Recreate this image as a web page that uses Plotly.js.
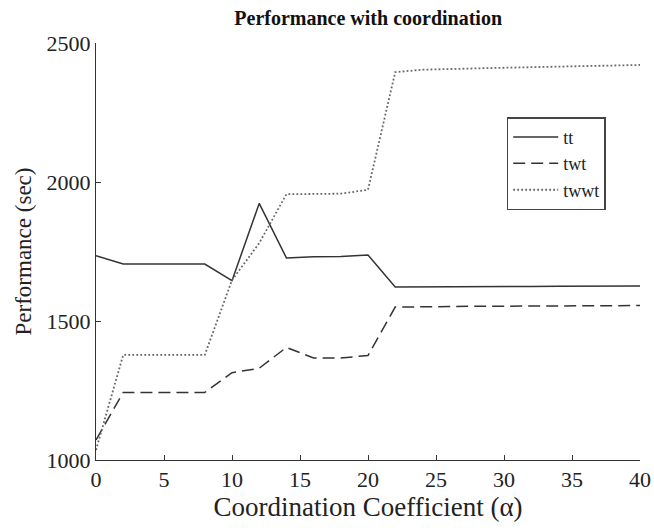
<!DOCTYPE html>
<html>
<head>
<meta charset="utf-8">
<script src="https://cdn.plot.ly/plotly-3.0.1.min.js"></script>
<style>html,body{margin:0;padding:0;background:#fff;}#chart{width:654px;height:528px;}</style>
</head>
<body>
<div id="chart"></div>
<script>
const alpha = [0, 2, 4, 6, 8, 10, 12, 14, 16, 18, 20, 22, 24, 26, 28, 30, 32, 34, 36, 38, 40];
const tt   = [1735, 1705, 1705, 1705, 1705, 1645, 1923, 1727, 1731, 1732, 1737, 1622, 1622, 1623, 1623, 1624, 1624, 1625, 1625, 1626, 1626];
const twt  = [1072, 1243, 1243, 1243, 1243, 1314, 1330, 1405, 1367, 1367, 1376, 1550, 1552, 1552, 1553, 1553, 1554, 1554, 1555, 1555, 1556];
const twwt = [1036, 1378, 1378, 1378, 1378, 1647, 1780, 1956, 1956, 1958, 1972, 2395, 2404, 2407, 2409, 2411, 2413, 2415, 2417, 2419, 2421];
const seriesNames = ['tt', 'twt', 'twwt'];
const xTicks = [0, 5, 10, 15, 20, 25, 30, 35, 40];
const yTicks = [1000, 1500, 2000, 2500];

const serif = 'Liberation Serif, Times New Roman, serif';
const traces = [
  {x: alpha, y: tt, name: seriesNames[0], mode: 'lines', line: {color: '#333333', width: 1.5, dash: 'solid'}},
  {x: alpha, y: twt, name: seriesNames[1], mode: 'lines', line: {color: '#333333', width: 1.5, dash: '12px,6px'}},
  {x: alpha, y: twwt, name: seriesNames[2], mode: 'lines', line: {color: '#666666', width: 1.8, dash: '1.8px,2.2px'}}
];
const layout = {
  width: 654, height: 528,
  margin: {l: 96, r: 14, t: 43, b: 68},
  paper_bgcolor: '#ffffff', plot_bgcolor: '#ffffff',
  font: {family: serif, color: '#222222'},
  title: {text: '<b>Performance with coordination</b>', font: {family: serif, size: 20, color: '#111111'}, x: 0.563, xanchor: 'center', y: 0.966, yanchor: 'middle'},
  xaxis: {
    range: [0, 40], tickvals: xTicks, ticktext: xTicks.map(String),
    showline: true, linecolor: '#333333', linewidth: 1, mirror: false,
    ticks: 'inside', ticklen: 5, tickcolor: '#333333', showgrid: false, zeroline: false,
    tickfont: {family: serif, size: 22, color: '#222222'},
    title: {text: 'Coordination Coefficient (α)', font: {family: serif, size: 27, color: '#222222'}, standoff: 2}
  },
  yaxis: {
    range: [1000, 2500], tickvals: yTicks, ticktext: yTicks.map(String),
    showline: true, linecolor: '#333333', linewidth: 1, mirror: false,
    ticks: 'inside', ticklen: 5, tickcolor: '#333333', showgrid: false, zeroline: false,
    tickfont: {family: serif, size: 22, color: '#222222'},
    title: {text: 'Performance (sec)', font: {family: serif, size: 23, color: '#222222'}, standoff: 8}
  },
  showlegend: true,
  legend: {
    x: 0.755, y: 0.822, xanchor: 'left', yanchor: 'top',
    bgcolor: '#ffffff', bordercolor: '#444444', borderwidth: 1.5,
    font: {family: serif, size: 18, color: '#222222'},
    itemwidth: 45, tracegroupgap: 0
  }
};
Plotly.newPlot('chart', traces, layout, {staticPlot: true});
</script>
</body>
</html>
